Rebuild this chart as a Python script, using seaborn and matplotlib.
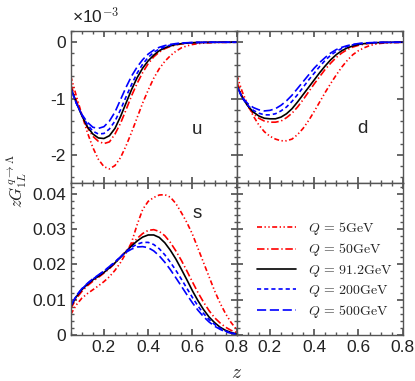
import matplotlib.pyplot as plt
import matplotlib.ticker as mticker
import pandas as pd
import seaborn as sns

# momentum fraction grid shared by all curves
z = [0.05, 0.075, 0.1, 0.125, 0.15, 0.175, 0.2, 0.225, 0.25, 0.275, 0.3,
     0.325, 0.35, 0.375, 0.4, 0.425, 0.45, 0.475, 0.5, 0.525, 0.55, 0.575,
     0.6, 0.625, 0.65, 0.675, 0.7, 0.725, 0.75, 0.775, 0.8]

q_labels = ["$Q\\,=\\,5\\mathrm{GeV}$", "$Q\\,=\\,50\\mathrm{GeV}$", "$Q\\,=\\,91.2\\mathrm{GeV}$",
            "$Q\\,=\\,200\\mathrm{GeV}$", "$Q\\,=\\,500\\mathrm{GeV}$"]

# u quark (units of 1e-3)
u_q5 = [-0.60, -0.95, -1.28, -1.60, -1.87, -2.08, -2.21, -2.25, -2.19, -2.05, -1.84,
        -1.60, -1.34, -1.08, -0.85, -0.64, -0.47, -0.34, -0.24, -0.16, -0.10, -0.065,
        -0.04, -0.025, -0.015, -0.009, -0.005, -0.003, -0.002, -0.001, 0.0]
u_q50 = [-0.75, -1.03, -1.29, -1.51, -1.67, -1.76, -1.80, -1.77, -1.63, -1.44, -1.20,
         -0.95, -0.73, -0.54, -0.38, -0.26, -0.175, -0.115, -0.075, -0.048, -0.03, -0.018,
         -0.01, -0.006, -0.003, -0.002, -0.001, 0.0, 0.0, 0.0, 0.0]
u_q91 = [-0.80, -1.07, -1.30, -1.50, -1.63, -1.70, -1.71, -1.66, -1.53, -1.32, -1.08,
         -0.84, -0.63, -0.46, -0.33, -0.23, -0.15, -0.10, -0.065, -0.04, -0.025, -0.015,
         -0.009, -0.005, -0.003, -0.002, -0.001, 0.0, 0.0, 0.0, 0.0]
u_q200 = [-0.82, -1.08, -1.29, -1.46, -1.58, -1.63, -1.62, -1.54, -1.40, -1.20, -0.97,
          -0.75, -0.55, -0.39, -0.27, -0.18, -0.12, -0.08, -0.05, -0.03, -0.018, -0.01,
          -0.006, -0.003, -0.002, -0.001, 0.0, 0.0, 0.0, 0.0, 0.0]
u_q500 = [-0.82, -1.08, -1.28, -1.42, -1.51, -1.53, -1.50, -1.40, -1.24, -1.02, -0.80,
          -0.60, -0.44, -0.31, -0.21, -0.14, -0.09, -0.06, -0.038, -0.024, -0.015, -0.009,
          -0.005, -0.003, -0.002, -0.001, 0.0, 0.0, 0.0, 0.0, 0.0]

# d quark (units of 1e-3)
d_q5 = [-0.58, -0.88, -1.11, -1.31, -1.47, -1.59, -1.67, -1.72, -1.75, -1.75, -1.72,
        -1.64, -1.53, -1.39, -1.23, -1.06, -0.89, -0.73, -0.58, -0.44, -0.32, -0.22,
        -0.15, -0.10, -0.06, -0.035, -0.02, -0.012, -0.007, -0.004, -0.002]
d_q50 = [-0.70, -0.96, -1.14, -1.27, -1.35, -1.40, -1.42, -1.42, -1.40, -1.34, -1.26,
         -1.15, -1.02, -0.88, -0.74, -0.61, -0.48, -0.37, -0.27, -0.19, -0.13, -0.085,
         -0.055, -0.035, -0.02, -0.012, -0.007, -0.004, -0.002, -0.001, 0.0]
d_q91 = [-0.76, -0.98, -1.13, -1.24, -1.31, -1.35, -1.36, -1.36, -1.33, -1.27, -1.18,
         -1.06, -0.93, -0.80, -0.67, -0.54, -0.42, -0.31, -0.22, -0.15, -0.10, -0.065,
         -0.04, -0.025, -0.015, -0.009, -0.005, -0.003, -0.002, -0.001, 0.0]
d_q200 = [-0.78, -0.99, -1.12, -1.21, -1.26, -1.29, -1.29, -1.27, -1.22, -1.15, -1.05,
          -0.93, -0.80, -0.67, -0.55, -0.43, -0.32, -0.23, -0.16, -0.11, -0.07, -0.045,
          -0.028, -0.017, -0.01, -0.006, -0.003, -0.002, -0.001, 0.0, 0.0]
d_q500 = [-0.78, -0.98, -1.09, -1.16, -1.20, -1.22, -1.21, -1.18, -1.12, -1.04, -0.94,
          -0.82, -0.70, -0.58, -0.46, -0.36, -0.27, -0.19, -0.13, -0.09, -0.06, -0.038,
          -0.023, -0.014, -0.008, -0.005, -0.003, -0.001, 0.0, 0.0, 0.0]

# s quark
s_q5 = [0.0058, 0.0085, 0.0104, 0.0117, 0.0128, 0.0139, 0.0151, 0.0165, 0.0183, 0.0205, 0.0232,
        0.0262, 0.0312, 0.0355, 0.0378, 0.0389, 0.0396, 0.0397, 0.0390, 0.0372, 0.0346, 0.0318,
        0.0285, 0.0245, 0.0205, 0.0165, 0.0125, 0.0090, 0.0060, 0.0035, 0.0015]
s_q50 = [0.0074, 0.0103, 0.0123, 0.0139, 0.0152, 0.0163, 0.0175, 0.0188, 0.0203, 0.0220, 0.0238,
         0.0256, 0.0273, 0.0287, 0.0296, 0.0298, 0.0293, 0.0281, 0.0262, 0.0238, 0.0211, 0.0181,
         0.0150, 0.0120, 0.0093, 0.0069, 0.0049, 0.0034, 0.0022, 0.0013, 0.0007]
s_q91 = [0.0080, 0.0108, 0.0128, 0.0143, 0.0156, 0.0166, 0.0177, 0.0190, 0.0204, 0.0220, 0.0236,
         0.0252, 0.0266, 0.0277, 0.0283, 0.0283, 0.0276, 0.0261, 0.0240, 0.0215, 0.0186, 0.0156,
         0.0125, 0.0097, 0.0072, 0.0051, 0.0035, 0.0022, 0.0013, 0.0007, 0.0003]
s_q200 = [0.0082, 0.0110, 0.0130, 0.0145, 0.0158, 0.0169, 0.0180, 0.0193, 0.0206, 0.0221, 0.0236,
          0.0248, 0.0257, 0.0262, 0.0262, 0.0256, 0.0244, 0.0227, 0.0206, 0.0183, 0.0158, 0.0132,
          0.0106, 0.0082, 0.0061, 0.0044, 0.0030, 0.0019, 0.0011, 0.0006, 0.0002]
s_q500 = [0.0083, 0.0111, 0.0131, 0.0146, 0.0159, 0.0170, 0.0181, 0.0194, 0.0207, 0.0221, 0.0234,
          0.0243, 0.0249, 0.0250, 0.0247, 0.0238, 0.0224, 0.0206, 0.0185, 0.0162, 0.0138, 0.0114,
          0.0091, 0.0070, 0.0052, 0.0037, 0.0025, 0.0016, 0.0009, 0.0005, 0.0002]

scale_ud = 1e-3

palette = dict(zip(q_labels, ["#ff0000", "#ff0000", "#000000", "#0000ff", "#0000ff"]))
dashes = dict(zip(q_labels, [(3, 1.5, 0.8, 1.5, 0.8, 1.5), (4.5, 1.6, 0.8, 1.6), "",
                             (2.5, 1.8), (5.5, 2.2)]))


def long_frame(series, factor=1.0):
    rows = []
    for label, vals in zip(q_labels, series):
        for zi, v in zip(z, vals):
            rows.append({"z": zi, "val": v * factor, "Q": label})
    return pd.DataFrame(rows)


sns.set_theme(style="ticks")
plt.rcParams.update({
    "font.family": ["Liberation Sans", "DejaVu Sans"],
    "mathtext.fontset": "cm",
    "axes.unicode_minus": False,
    "axes.edgecolor": "#555555",
    "axes.linewidth": 1.0,
    "xtick.direction": "in",
    "ytick.direction": "in",
    "xtick.top": True,
    "ytick.right": True,
    "xtick.color": "#555555",
    "ytick.color": "#555555",
    "xtick.labelcolor": "#222222",
    "ytick.labelcolor": "#222222",
    "xtick.major.size": 4,
    "ytick.major.size": 4,
    "xtick.minor.size": 2.2,
    "ytick.minor.size": 2.2,
    "xtick.labelsize": 12.5,
    "ytick.labelsize": 12.5,
})

fig = plt.figure(figsize=(4.15, 3.81), dpi=100)
x0, w, y0, h = 0.1704, 0.4, 0.1207, 0.399
ax_u = fig.add_axes([x0, y0 + h, w, h])
ax_d = fig.add_axes([x0 + w, y0 + h, w, h])
ax_s = fig.add_axes([x0, y0, w, h])
ax_e = fig.add_axes([x0 + w, y0, w, h])

panels = [
    (ax_u, long_frame([u_q5, u_q50, u_q91, u_q200, u_q500], scale_ud), "u", (0.76, 0.35)),
    (ax_d, long_frame([d_q5, d_q50, d_q91, d_q200, d_q500], scale_ud), "d", (0.76, 0.36)),
    (ax_s, long_frame([s_q5, s_q50, s_q91, s_q200, s_q500]), "s", (0.76, 0.80)),
]
for ax, df, name, pos in panels:
    sns.lineplot(data=df, x="z", y="val", hue="Q", style="Q", palette=palette,
                 dashes=dashes, linewidth=1.2, legend=False, ax=ax)
    ax.text(pos[0], pos[1], name, transform=ax.transAxes, fontsize=13.5,
            ha="center", va="center")

fmt = mticker.FuncFormatter(lambda v, _: f"{round(v, 6):g}")
fmt_e3 = mticker.FuncFormatter(lambda v, _: f"{round(v / scale_ud, 6):g}")

for ax in (ax_u, ax_d, ax_s, ax_e):
    ax.set_xlim(0.05, 0.8)
    ax.xaxis.set_major_locator(mticker.MultipleLocator(0.2))
    ax.xaxis.set_minor_locator(mticker.MultipleLocator(0.05))
    ax.xaxis.set_major_formatter(fmt)
    ax.tick_params(which="both", top=True, right=True)
    ax.set_xlabel("")
    ax.set_ylabel("")

for ax in (ax_u, ax_d):
    ax.set_ylim(-2.5e-3, 0.2e-3)
    ax.yaxis.set_major_locator(mticker.MultipleLocator(1e-3))
    ax.yaxis.set_minor_locator(mticker.MultipleLocator(0.2e-3))
    ax.yaxis.set_major_formatter(fmt_e3)
    ax.tick_params(labelbottom=False)

for ax in (ax_s, ax_e):
    ax.set_ylim(0, 0.043)
    ax.yaxis.set_major_locator(mticker.MultipleLocator(0.01))
    ax.yaxis.set_minor_locator(mticker.MultipleLocator(0.002))
    ax.yaxis.set_major_formatter(fmt)

ax_d.tick_params(labelleft=False)
ax_e.tick_params(labelleft=False)

ax_u.text(0.005, 1.03, "×10$^{-3}$", transform=ax_u.transAxes, fontsize=12.5,
          ha="left", va="bottom", color="#222222")

handles = ax_s.get_lines()[:5]
ax_e.legend(handles, q_labels, loc="upper left", bbox_to_anchor=(0.12, 0.755),
            frameon=False, fontsize=10, handlelength=2.8, handletextpad=0.9,
            labelspacing=0.3, borderpad=0, borderaxespad=0)

fig.text(0.571, 0.02, "$z$", fontsize=14, ha="center", va="center")
fig.text(0.04, 0.525, "$zG_{1L}^{q\\to\\Lambda}$", fontsize=12, rotation=90,
         ha="center", va="center")

fig.savefig("out.png", dpi=100)
